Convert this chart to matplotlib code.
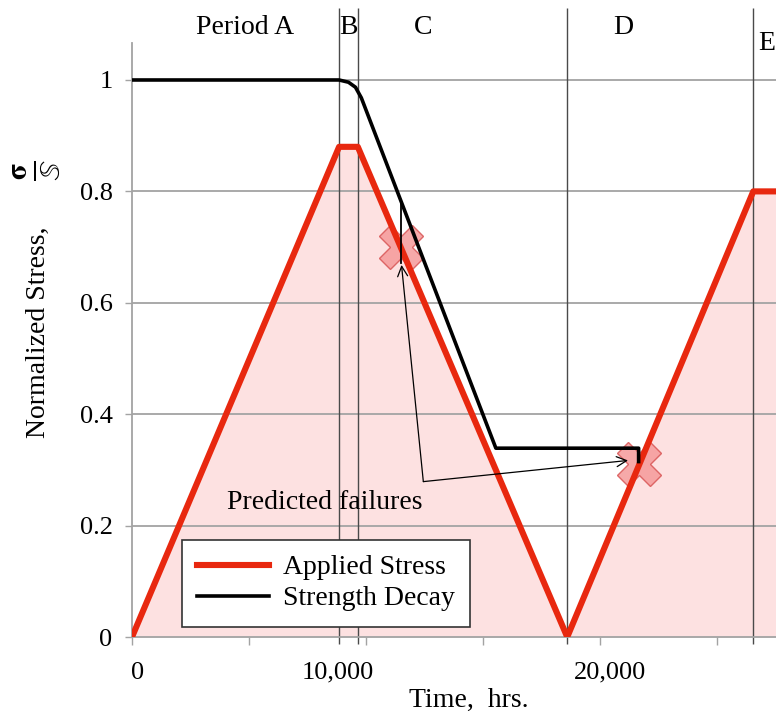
import matplotlib
matplotlib.use("Agg")
import matplotlib.pyplot as plt
from matplotlib.transforms import offset_copy

# --- data ---
STRESS_T = [0, 8850, 9650, 18600, 26550, 28000]
STRESS = [0.0, 0.88, 0.88, 0.0, 0.80, 0.80]

STRENGTH_T = [0, 8850, 9250, 9550, 9800, 15550, 21650, 21650]
STRENGTH = [1.0, 1.0, 0.996, 0.987, 0.968, 0.339, 0.339, 0.315]

PERIOD_BOUNDS = [8850, 9650, 18600, 26550]
PERIOD_LABELS = ["Period A", "B", "C", "D", "E"]
PERIOD_LABEL_T = [4830, 9270, 12440, 20980, 27140]

FAIL_T = [11480, 21650]
FAIL_S = [0.70, 0.31]
FAIL_STRENGTH_1 = 0.785
ARROW_ORIGIN = (12450, 0.279)
ARROW_TIPS = [(11517, 0.668), (21197, 0.317)]
ANNOT_TEXT = "Predicted failures"
ANNOT_POS = (8230, 0.2415)

XTICKS = [0, 5000, 10000, 15000, 20000, 25000]
XTICK_LABELS = {0: "0", 10000: "10,000", 20000: "20,000"}
YTICKS = [0, 0.2, 0.4, 0.6, 0.8, 1.0]
YTICK_LABELS = ["0", "0.2", "0.4", "0.6", "0.8", "1"]

RED = "#e8280f"
PINK = "#fde1e1"
GRID = "#a3a3a3"

plt.rcParams["font.family"] = ["Liberation Serif", "DejaVu Serif"]
plt.rcParams["mathtext.fontset"] = "stix"

fig = plt.figure(figsize=(7.76, 7.19), dpi=100)
ax = fig.add_axes([0.1701, 0.1140, 0.8299, 0.8262])
ax.set_xlim(0, 27521)
ax.set_ylim(0, 1.0664)

ax.fill_between(STRESS_T, 0, STRESS, color=PINK, lw=0, zorder=1)
for y in YTICKS[1:]:
    ax.axhline(y, color=GRID, lw=1.3, zorder=1.5)

ax.vlines(PERIOD_BOUNDS, -0.012, 1.13, colors="#4a4a4a", lw=1.0, clip_on=False, zorder=2)

ax.plot(FAIL_T, FAIL_S, ls="none", marker="X", ms=32, mfc="#f59a9a", mec="#d85555",
        mew=1.0, alpha=0.85, zorder=2.5)

ax.plot(STRESS_T, STRESS, color=RED, lw=4.4, label="Applied Stress", zorder=3)
ax.plot(STRENGTH_T, STRENGTH, color="black", lw=2.6, label="Strength Decay", zorder=4)
ax.plot([FAIL_T[0], FAIL_T[0]], [FAIL_STRENGTH_1, 0.672], color="black", lw=1.3, zorder=4)

for tip in ARROW_TIPS:
    ax.annotate("", xy=tip, xytext=ARROW_ORIGIN,
                arrowprops=dict(arrowstyle="->", color="black", lw=0.9,
                                shrinkA=0, shrinkB=0, mutation_scale=18),
                zorder=5)
ax.text(*ANNOT_POS, ANNOT_TEXT, fontsize=20, ha="center", va="center", zorder=5)

for label, t in zip(PERIOD_LABELS, PERIOD_LABEL_T):
    y = 1.066 if label == "E" else 1.095
    ax.text(t, y, label, fontsize=20, ha="center", va="center", clip_on=False)

# axes styling
for side in ["top", "right"]:
    ax.spines[side].set_visible(False)
for side in ["left", "bottom"]:
    ax.spines[side].set_color(GRID)
    ax.spines[side].set_linewidth(1.3)

ax.set_yticks(YTICKS)
ax.set_yticklabels(YTICK_LABELS, fontsize=19)
ax.tick_params(axis="y", direction="out", length=5, width=1, color=GRID, pad=9)
ax.set_xticks(XTICKS)
ax.set_xticklabels([])
ax.tick_params(axis="x", direction="out", length=6, width=1, color=GRID)

x_offsets = {0: 4, 10000: -20, 20000: 7}
for t, lab in XTICK_LABELS.items():
    tr = offset_copy(ax.get_xaxis_transform(), fig=fig, x=x_offsets[t], y=0, units="points")
    ax.text(t, -0.060, lab, fontsize=19, ha="center", va="center", transform=tr)

ax.set_xlabel("Time,  hrs.", fontsize=20)
ax.xaxis.set_label_coords(0.5225, -0.086)

# y label: words plus a full-size fraction above them
ax.text(-0.145, 0.513, "Normalized Stress,", fontsize=20, rotation=90,
        ha="center", va="center", transform=ax.transAxes)
ax.text(-0.148, 0.785, r"$\frac{\mathbf{\sigma}}{\mathbb{S}}$", fontsize=30, rotation=90,
        ha="center", va="center", transform=ax.transAxes)

leg = ax.legend(loc="lower left", bbox_to_anchor=(0.0772, 0.0173), borderaxespad=0,
                fontsize=20, frameon=True, fancybox=False, handlelength=2.6,
                handletextpad=0.5, labelspacing=0.2, borderpad=0.55)
leg.get_frame().set_edgecolor("#333333")
leg.get_frame().set_linewidth(1.2)
leg.get_frame().set_alpha(1)
leg.set_zorder(6)

fig.savefig("out.png", dpi=100)
